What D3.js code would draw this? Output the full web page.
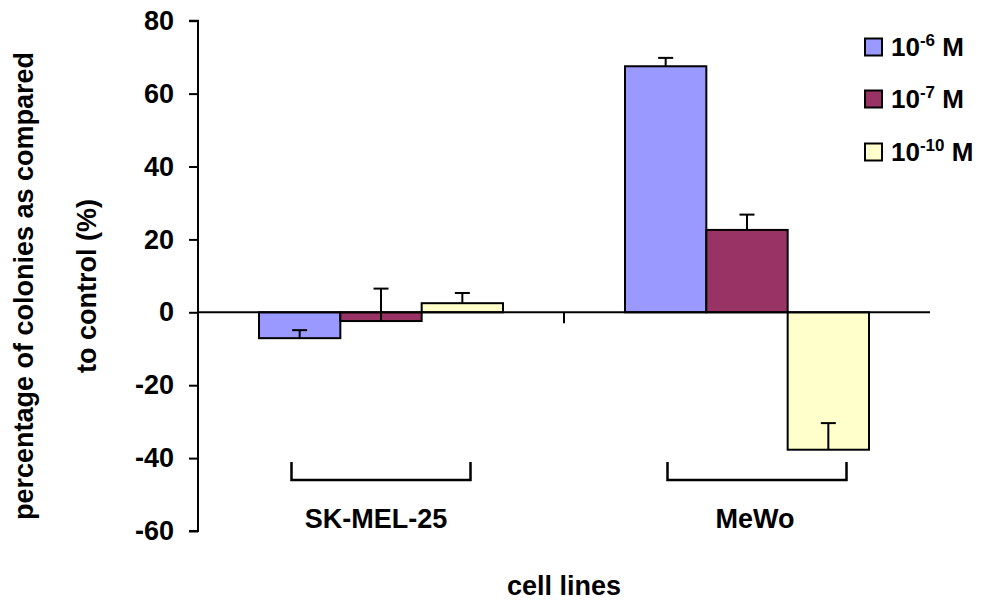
<!DOCTYPE html>
<html>
<head>
<meta charset="utf-8">
<script src="https://cdn.jsdelivr.net/npm/d3@7"></script>
<style>
  html, body { margin: 0; padding: 0; background: #fff; }
  svg { display: block; font-family: "Liberation Sans", Arial, Helvetica, sans-serif; font-weight: bold; }
</style>
</head>
<body>
<svg id="chart" width="983" height="602"></svg>
<script>
// Cell lines on the x axis
const categories = ["SK-MEL-25", "MeWo"];
// Concentrations (legend): base and exponent
const seriesNames = ["10-6 M", "10-7 M", "10-10 M"];
const seriesExponents = ["-6", "-7", "-10"];
const seriesColors = ["#9999ff", "#993366", "#ffffcc"];
// Percentage of colonies vs control, per concentration, per cell line
const values1e6 = [-7.1, 67.5];
const values1e7 = [-2.4, 22.6];
const values1e10 = [2.5, -37.7];
// Error bar lengths (drawn in the plus direction)
const errors1e6 = [2.2, 2.3];
const errors1e7 = [8.9, 4.2];
const errors1e10 = [2.8, 7.3];
// Y axis ticks
const yTicks = [-60, -40, -20, 0, 20, 40, 60, 80];
const yTitleLines = ["percentage of colonies as compared", "to control (%)"];
const xTitle = "cell lines";

const seriesValues = [values1e6, values1e7, values1e10];
const seriesErrors = [errors1e6, errors1e7, errors1e10];

const svg = d3.select("#chart");
const plot = { left: 198, right: 930, top: 20.7, bottom: 531 };
const FS = 27;

const y = d3.scaleLinear().domain([-60, 80]).range([plot.bottom, plot.top]);
const x0 = d3.scaleBand().domain(categories).range([plot.left, plot.right]).paddingInner(0).paddingOuter(0);
const groupPad = x0.bandwidth() / 6;
const x1 = d3.scaleBand().domain(d3.range(seriesNames.length))
  .range([groupPad, x0.bandwidth() - groupPad]).padding(0);

// Bars
const bars = [];
categories.forEach((c, ci) => {
  seriesValues.forEach((vals, si) => {
    bars.push({ cat: c, s: si, v: vals[ci], e: seriesErrors[si][ci] });
  });
});

svg.append("g").selectAll("rect").data(bars).join("rect")
  .attr("x", d => x0(d.cat) + x1(d.s))
  .attr("width", x1.bandwidth())
  .attr("y", d => y(Math.max(0, d.v)))
  .attr("height", d => Math.abs(y(d.v) - y(0)))
  .attr("fill", d => seriesColors[d.s])
  .attr("stroke", "#000")
  .attr("stroke-width", 2);

// Error bars (plus direction)
const eb = svg.append("g").attr("stroke", "#000").attr("stroke-width", 2);
bars.forEach(d => {
  const cx = x0(d.cat) + x1(d.s) + x1.bandwidth() / 2;
  eb.append("line").attr("x1", cx).attr("x2", cx).attr("y1", y(d.v)).attr("y2", y(d.v + d.e));
  eb.append("line").attr("x1", cx - 7.5).attr("x2", cx + 7.5).attr("y1", y(d.v + d.e)).attr("y2", y(d.v + d.e));
});

// Y axis
const yAxis = d3.axisLeft(y).tickValues(yTicks).tickSize(9).tickPadding(15).tickFormat(d => String(d));
const yg = svg.append("g").attr("transform", `translate(${plot.left},0)`).call(yAxis);
yg.select(".domain").attr("stroke", "#000").attr("stroke-width", 2).attr("d", `M-9,${y(80)}H0V${y(-60)}H-9`);
yg.selectAll(".tick line").attr("stroke", "#000").attr("stroke-width", 2);
yg.selectAll(".tick text").attr("font-size", FS).attr("font-weight", "bold").attr("fill", "#000")
  .attr("font-family", "Liberation Sans, Arial, sans-serif");

// Zero line with category divider tick
svg.append("line").attr("x1", plot.left).attr("x2", plot.right).attr("y1", y(0)).attr("y2", y(0))
  .attr("stroke", "#000").attr("stroke-width", 2);
categories.slice(1).forEach(c => {
  svg.append("line").attr("x1", x0(c)).attr("x2", x0(c)).attr("y1", y(0)).attr("y2", y(0) + 11)
    .attr("stroke", "#000").attr("stroke-width", 2);
});

// Bracket under each cell line, with its name
const bracketShift = [0, 10];
const labelShift = [-5, -2];
categories.forEach((c, ci) => {
  const cx = x0(c) + x0.bandwidth() / 2 + bracketShift[ci];
  const hw = 89.5;
  svg.append("path")
    .attr("d", `M${cx - hw},462V480H${cx + hw}V462`)
    .attr("fill", "none").attr("stroke", "#000").attr("stroke-width", 2.5);
  svg.append("text").attr("x", cx + labelShift[ci]).attr("y", 528).attr("text-anchor", "middle")
    .attr("font-size", FS).text(c);
});

// Axis titles
svg.append("text").attr("x", (plot.left + plot.right) / 2).attr("y", 595).attr("text-anchor", "middle")
  .attr("font-size", FS).text(xTitle);
const yt = svg.append("text").attr("transform", "translate(33,286) rotate(-90)")
  .attr("text-anchor", "middle").attr("font-size", FS);
yTitleLines.forEach((t, i) => {
  yt.append("tspan").attr("x", 0).attr("dy", i === 0 ? 0 : 63).text(t);
});

// Legend
const lg = svg.append("g");
const legendY = [47, 99, 152];
seriesNames.forEach((n, i) => {
  lg.append("rect").attr("x", 865).attr("y", legendY[i] - 8.5).attr("width", 17).attr("height", 17)
    .attr("fill", seriesColors[i]).attr("stroke", "#000").attr("stroke-width", 2);
  const t = lg.append("text").attr("x", 891).attr("y", legendY[i] + 9).attr("font-size", 26);
  t.append("tspan").text(n.split("-")[0].trim());
  t.append("tspan").attr("font-size", 17).attr("dy", -10).text(seriesExponents[i]);
  t.append("tspan").attr("dy", 10).text(" M");
});
</script>
</body>
</html>
